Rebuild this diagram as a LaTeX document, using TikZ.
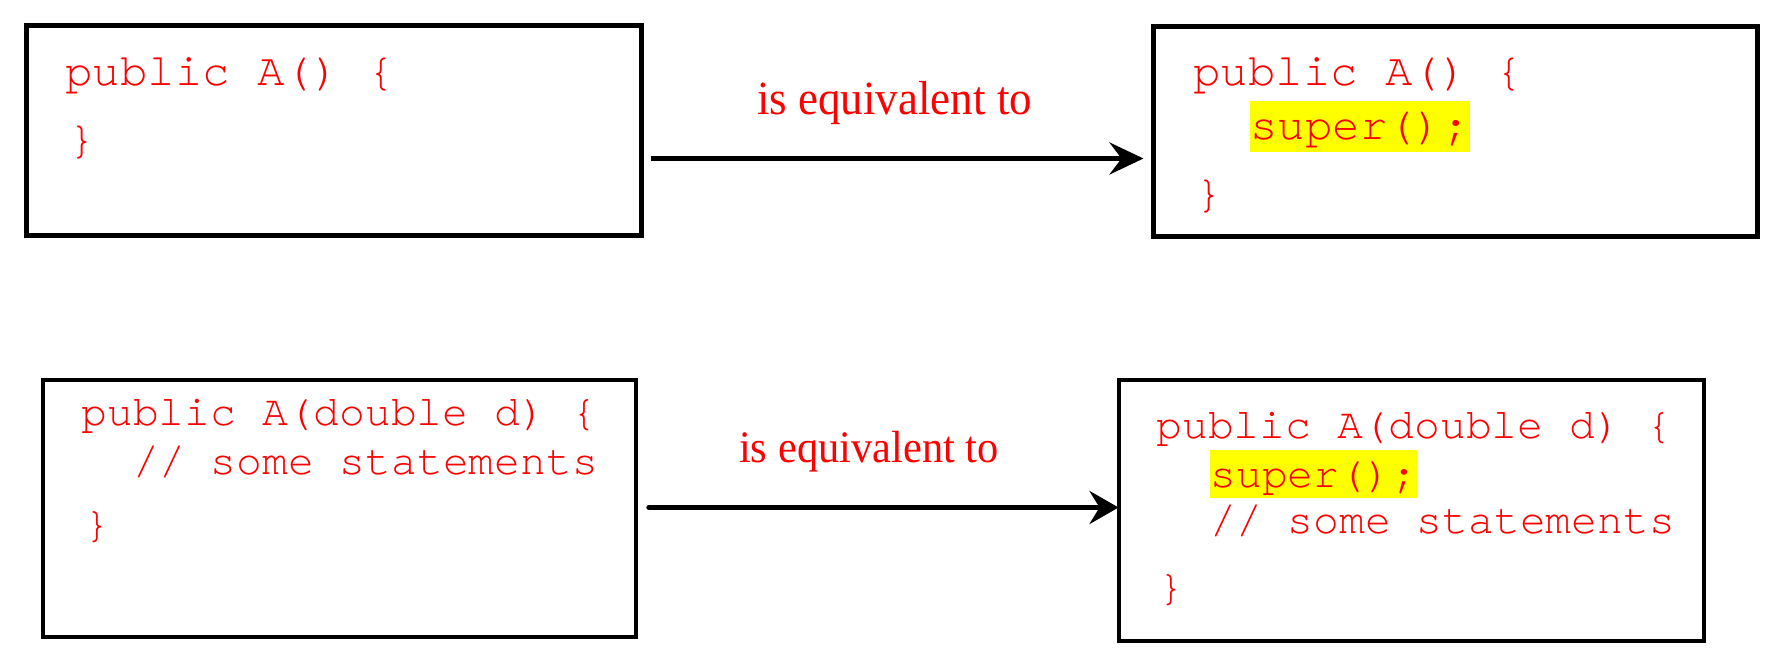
\documentclass[tikz,border=0pt]{standalone}
\usepackage{fontspec}
\setmainfont{Liberation Serif}
\setmonofont{TeX Gyre Cursor}
\usetikzlibrary{arrows.meta}
\definecolor{codered}{RGB}{255,0,0}
\definecolor{hilite}{RGB}{255,255,0}
\begin{document}
\begin{tikzpicture}[x=0.5pt,y=-0.5pt,
  box/.style={draw=black, rectangle, inner sep=0pt, outer sep=0pt},
  codeA/.style={anchor=base west, inner sep=0pt, text=codered, font=\fontsize{22.85pt}{27pt}\selectfont\ttfamily},
  codeB/.style={anchor=base west, inner sep=0pt, text=codered, font=\fontsize{21.5pt}{26pt}\selectfont\ttfamily},
  lblA/.style={anchor=base, inner sep=0pt, text=codered, font=\fontsize{22.5pt}{27pt}\selectfont\rmfamily, yscale=1.06},
  lblB/.style={anchor=base, inner sep=0pt, text=codered, font=\fontsize{21.25pt}{26pt}\selectfont\rmfamily, yscale=1.06},
  arrA/.style={-{Stealth[length=17pt,width=16pt,inset=6pt]}, line width=2.5pt},
  arrB/.style={-{Stealth[length=14.5pt,width=16.5pt,inset=5pt]}, line width=2.75pt, line cap=round}
]
\useasboundingbox (0,0) rectangle (1782,657);
% boxes
\node[box, line width=2.5pt, minimum width=307.5pt, minimum height=105pt] (b1) at (334,131) {};
\node[box, line width=2.5pt, minimum width=302pt, minimum height=105pt] (b2) at (1455.5,131.5) {};
\node[box, line width=2pt, minimum width=296.5pt, minimum height=128.5pt] (b3) at (339.5,508.5) {};
\node[box, line width=2pt, minimum width=292.5pt, minimum height=130.5pt] (b4) at (1411.5,510.5) {};
% top-left code
\node[codeA] (t1a) at (65,86) {public A() \{};
\node[codeA] (t1b) at (68,154) {\}};
% top-right code
\node[codeA] (t2a) at (1193,86) {public A() \{};
\node[codeA, fill=hilite, text height=19.5pt, text depth=6pt] (t2b) at (1250,140) {super();};
\node[codeA] (t2c) at (1195,208) {\}};
% bottom-left code
\node[codeB] (t3a) at (81,425) {public A(double d) \{};
\node[codeB] (t3b) at (133,474) {// some statements};
\node[codeB] (t3c) at (84,537) {\}};
% bottom-right code
\node[codeB] (t4a) at (1156,438) {public A(double d) \{};
\node[codeB, fill=hilite, text height=18.5pt, text depth=5.5pt] (t4b) at (1210,487) {super();};
\node[codeB] (t4c) at (1210,533) {// some statements};
\node[codeB] (t4d) at (1158,600) {\}};
% labels
\node[lblA, transform shape] (l1) at (894.5,115) {is equivalent to};
\node[lblB, transform shape] (l2) at (869,462) {is equivalent to};
% arrows
\draw[arrA] ([xshift=4.5pt,yshift=-13.75pt]b1.east) -- ([xshift=-5pt,yshift=-13.75pt]b1.east -| b2.west);
\draw[arrB] ([xshift=6.5pt,yshift=0.5pt]b3.east) -- ([xshift=-0.25pt,yshift=0.5pt]b3.east -| b4.west);
\end{tikzpicture}
\end{document}
